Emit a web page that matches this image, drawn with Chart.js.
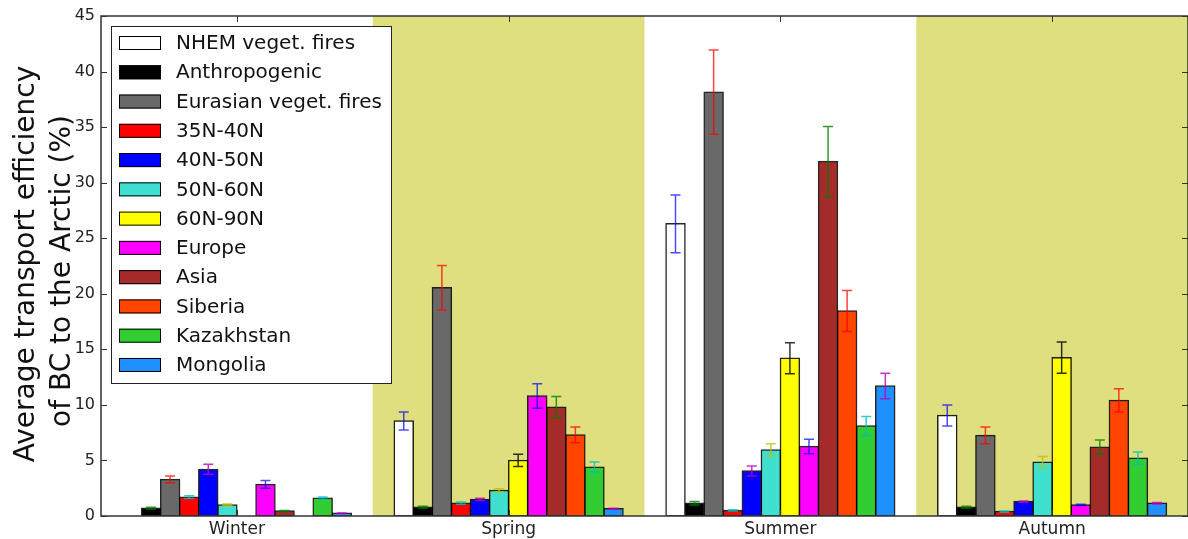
<!DOCTYPE html>
<html>
<head>
<meta charset="utf-8">
<script src="https://cdn.jsdelivr.net/npm/chart.js@4.4.0/dist/chart.umd.min.js"></script>
<style>
  html, body { margin: 0; padding: 0; background: #fff; }
  #wrap { width: 1188px; height: 539px; }
</style>
</head>
<body>
<div id="wrap"><canvas id="myChart" width="1188" height="539"></canvas></div>
<script>
const seasons = ['Winter', 'Spring', 'Summer', 'Autumn'];
const yTicks = [0, 5, 10, 15, 20, 25, 30, 35, 40, 45];

const sources = ['NHEM veget. fires', 'Anthropogenic', 'Eurasian veget. fires', '35N-40N', '40N-50N',
    '50N-60N', '60N-90N', 'Europe', 'Asia', 'Siberia', 'Kazakhstan', 'Mongolia'];

// mean transport efficiency (%) per season
const nhem      = [0,    8.55, 26.3,  9.05];
const anthro    = [0.7,  0.8,  1.15,  0.8];
const eurasian  = [3.3,  20.55, 38.15, 7.25];
const lat35_40  = [1.7,  1.15, 0.5,   0.4];
const lat40_50  = [4.2,  1.5,  4.05,  1.3];
const lat50_60  = [1.0,  2.3,  5.95,  4.85];
const lat60_90  = [0,    5.0,  14.2,  14.25];
const europe    = [2.85, 10.8, 6.25,  1.0];
const asia      = [0.45, 9.8,  31.9,  6.2];
const siberia   = [0,    7.3,  18.45, 10.4];
const kazakh    = [1.6,  4.4,  8.1,   5.2];
const mongolia  = [0.25, 0.65, 11.7,  1.15];

// error bar half-lengths
const nhemErr     = [0,    0.8,  2.6,  0.95];
const anthroErr   = [0.08, 0.08, 0.15, 0.08];
const eurasianErr = [0.3,  2.0,  3.8,  0.75];
const lat35_40Err = [0.12, 0.1,  0.06, 0.06];
const lat40_50Err = [0.45, 0.1,  0.45, 0.06];
const lat50_60Err = [0.08, 0.15, 0.55, 0.5];
const lat60_90Err = [0,    0.55, 1.4,  1.4];
const europeErr   = [0.35, 1.1,  0.65, 0.06];
const asiaErr     = [0.05, 0.95, 3.15, 0.65];
const siberiaErr  = [0,    0.7,  1.85, 1.05];
const kazakhErr   = [0.1,  0.45, 0.85, 0.55];
const mongoliaErr = [0.03, 0.05, 1.15, 0.06];

const values = [nhem, anthro, eurasian, lat35_40, lat40_50, lat50_60, lat60_90, europe, asia, siberia, kazakh, mongolia];
const errors = [nhemErr, anthroErr, eurasianErr, lat35_40Err, lat40_50Err, lat50_60Err, lat60_90Err,
    europeErr, asiaErr, siberiaErr, kazakhErr, mongoliaErr];

const fills = ['#ffffff', '#000000', '#696969', '#ff0000', '#0000ff', '#40e0d0',
    '#ffff00', '#ff00ff', '#a52a2a', '#ff4500', '#32cd32', '#1e90ff'];
const errColors = ['rgba(0,0,255,0.7)', 'rgba(0,128,0,0.8)', 'rgba(255,0,0,0.75)', 'rgba(0,191,191,0.8)',
    'rgba(191,0,191,0.8)', 'rgba(191,191,0,0.8)', 'rgba(0,0,0,0.8)', 'rgba(0,0,255,0.7)',
    'rgba(0,128,0,0.8)', 'rgba(255,0,0,0.75)', 'rgba(0,191,191,0.8)', 'rgba(191,0,191,0.8)'];

const FONT = "'DejaVu Sans', sans-serif";

const shading = {
    id: 'shading',
    beforeDatasetsDraw(chart) {
        const { ctx, chartArea, scales } = chart;
        const w = (chartArea.right - chartArea.left) / seasons.length;
        ctx.save();
        ctx.fillStyle = '#dfdf80';
        [1, 3].forEach(i => {
            const cx = scales.x.getPixelForValue(i);
            ctx.fillRect(cx - w / 2, chartArea.top, w, chartArea.bottom - chartArea.top);
        });
        ctx.restore();
    }
};

const errorBars = {
    id: 'errorBars',
    afterDatasetsDraw(chart) {
        const { ctx, scales } = chart;
        ctx.save();
        ctx.lineWidth = 1.5;
        chart.data.datasets.forEach((ds, di) => {
            const meta = chart.getDatasetMeta(di);
            meta.data.forEach((bar, i) => {
                const e = errors[di][i];
                const v = ds.data[i];
                if (!e || !v) return;
                const yHi = scales.y.getPixelForValue(v + e);
                const yLo = scales.y.getPixelForValue(v - e);
                ctx.strokeStyle = errColors[di];
                ctx.beginPath();
                ctx.moveTo(bar.x, yHi); ctx.lineTo(bar.x, yLo);
                ctx.moveTo(bar.x - 5, yHi); ctx.lineTo(bar.x + 5, yHi);
                ctx.moveTo(bar.x - 5, yLo); ctx.lineTo(bar.x + 5, yLo);
                ctx.stroke();
            });
        });
        ctx.restore();
    }
};

const frame = {
    id: 'frame',
    afterDraw(chart) {
        const { ctx, chartArea, scales } = chart;
        const { left, right, top, bottom } = chartArea;
        ctx.save();
        ctx.strokeStyle = '#333';
        ctx.lineWidth = 1.5;
        ctx.strokeRect(left, top, right - left, bottom - top);
        ctx.lineWidth = 1;
        ctx.beginPath();
        yTicks.forEach(t => {
            const y = Math.round(scales.y.getPixelForValue(t)) + 0.5;
            ctx.moveTo(left, y); ctx.lineTo(left + 6, y);
            ctx.moveTo(right - 6, y); ctx.lineTo(right, y);
        });
        seasons.forEach((s, i) => {
            const x = Math.round(scales.x.getPixelForValue(i)) + 0.5;
            ctx.moveTo(x, bottom); ctx.lineTo(x, bottom - 6);
            ctx.moveTo(x, top); ctx.lineTo(x, top + 6);
        });
        ctx.stroke();

        // y axis title
        ctx.fillStyle = '#111';
        ctx.font = '28px ' + FONT;
        ctx.textAlign = 'center';
        ctx.textBaseline = 'alphabetic';
        ctx.save();
        ctx.translate(34, 264);
        ctx.rotate(-Math.PI / 2);
        ctx.fillText('Average transport efficiency', 0, 0);
        ctx.restore();
        ctx.save();
        ctx.translate(70, 271);
        ctx.rotate(-Math.PI / 2);
        ctx.fillText('of BC to the Arctic (%)', 0, 0);
        ctx.restore();

        // legend box
        const bx = 111, by = 26, bw = 280, bh = 357;
        ctx.fillStyle = '#fff';
        ctx.fillRect(bx, by, bw, bh);
        ctx.strokeStyle = '#222';
        ctx.lineWidth = 1;
        ctx.strokeRect(bx + 0.5, by + 0.5, bw, bh);
        ctx.font = '20px ' + FONT;
        ctx.textAlign = 'left';
        ctx.textBaseline = 'middle';
        chart.data.datasets.forEach((ds, i) => {
            const cy = 43 + i * 29.27;
            ctx.fillStyle = ds.backgroundColor;
            ctx.fillRect(119, cy - 7, 42, 14);
            ctx.strokeStyle = '#000';
            ctx.strokeRect(119.5, cy - 6.5, 41, 13);
            ctx.fillStyle = '#111';
            ctx.fillText(ds.label, 176, cy + 1);
        });
        ctx.restore();
    }
};

const ctx = document.getElementById('myChart').getContext('2d');

const myBarChart = new Chart(ctx, {
    type: 'bar',
    data: {
        labels: seasons,
        datasets: sources.map((name, i) => ({
            label: name,
            data: values[i],
            backgroundColor: fills[i],
            borderColor: 'rgba(0,0,0,0.85)',
            borderWidth: 1.5,
            borderSkipped: false,
            inflateAmount: 0.7,
            categoryPercentage: 0.842,
            barPercentage: 1.0
        }))
    },
    options: {
        responsive: false,
        maintainAspectRatio: false,
        animation: false,
        layout: { padding: { top: 16, right: 0, left: 0, bottom: 0 } },
        plugins: {
            legend: { display: false },
            tooltip: { enabled: false }
        },
        scales: {
            x: {
                grid: { display: false, drawTicks: false },
                border: { display: false },
                ticks: { color: '#222', font: { family: FONT, size: 17 }, padding: 3 },
                afterFit(scale) { scale.height = 23; }
            },
            y: {
                min: 0,
                max: 45,
                afterBuildTicks(scale) { scale.ticks = yTicks.map(v => ({ value: v })); },
                grid: { display: false, drawTicks: false },
                border: { display: false },
                ticks: { color: '#222', font: { family: FONT, size: 16 }, padding: 6 },
                afterFit(scale) { scale.width = 101; }
            }
        }
    },
    plugins: [shading, errorBars, frame]
});
</script>
</body>
</html>
